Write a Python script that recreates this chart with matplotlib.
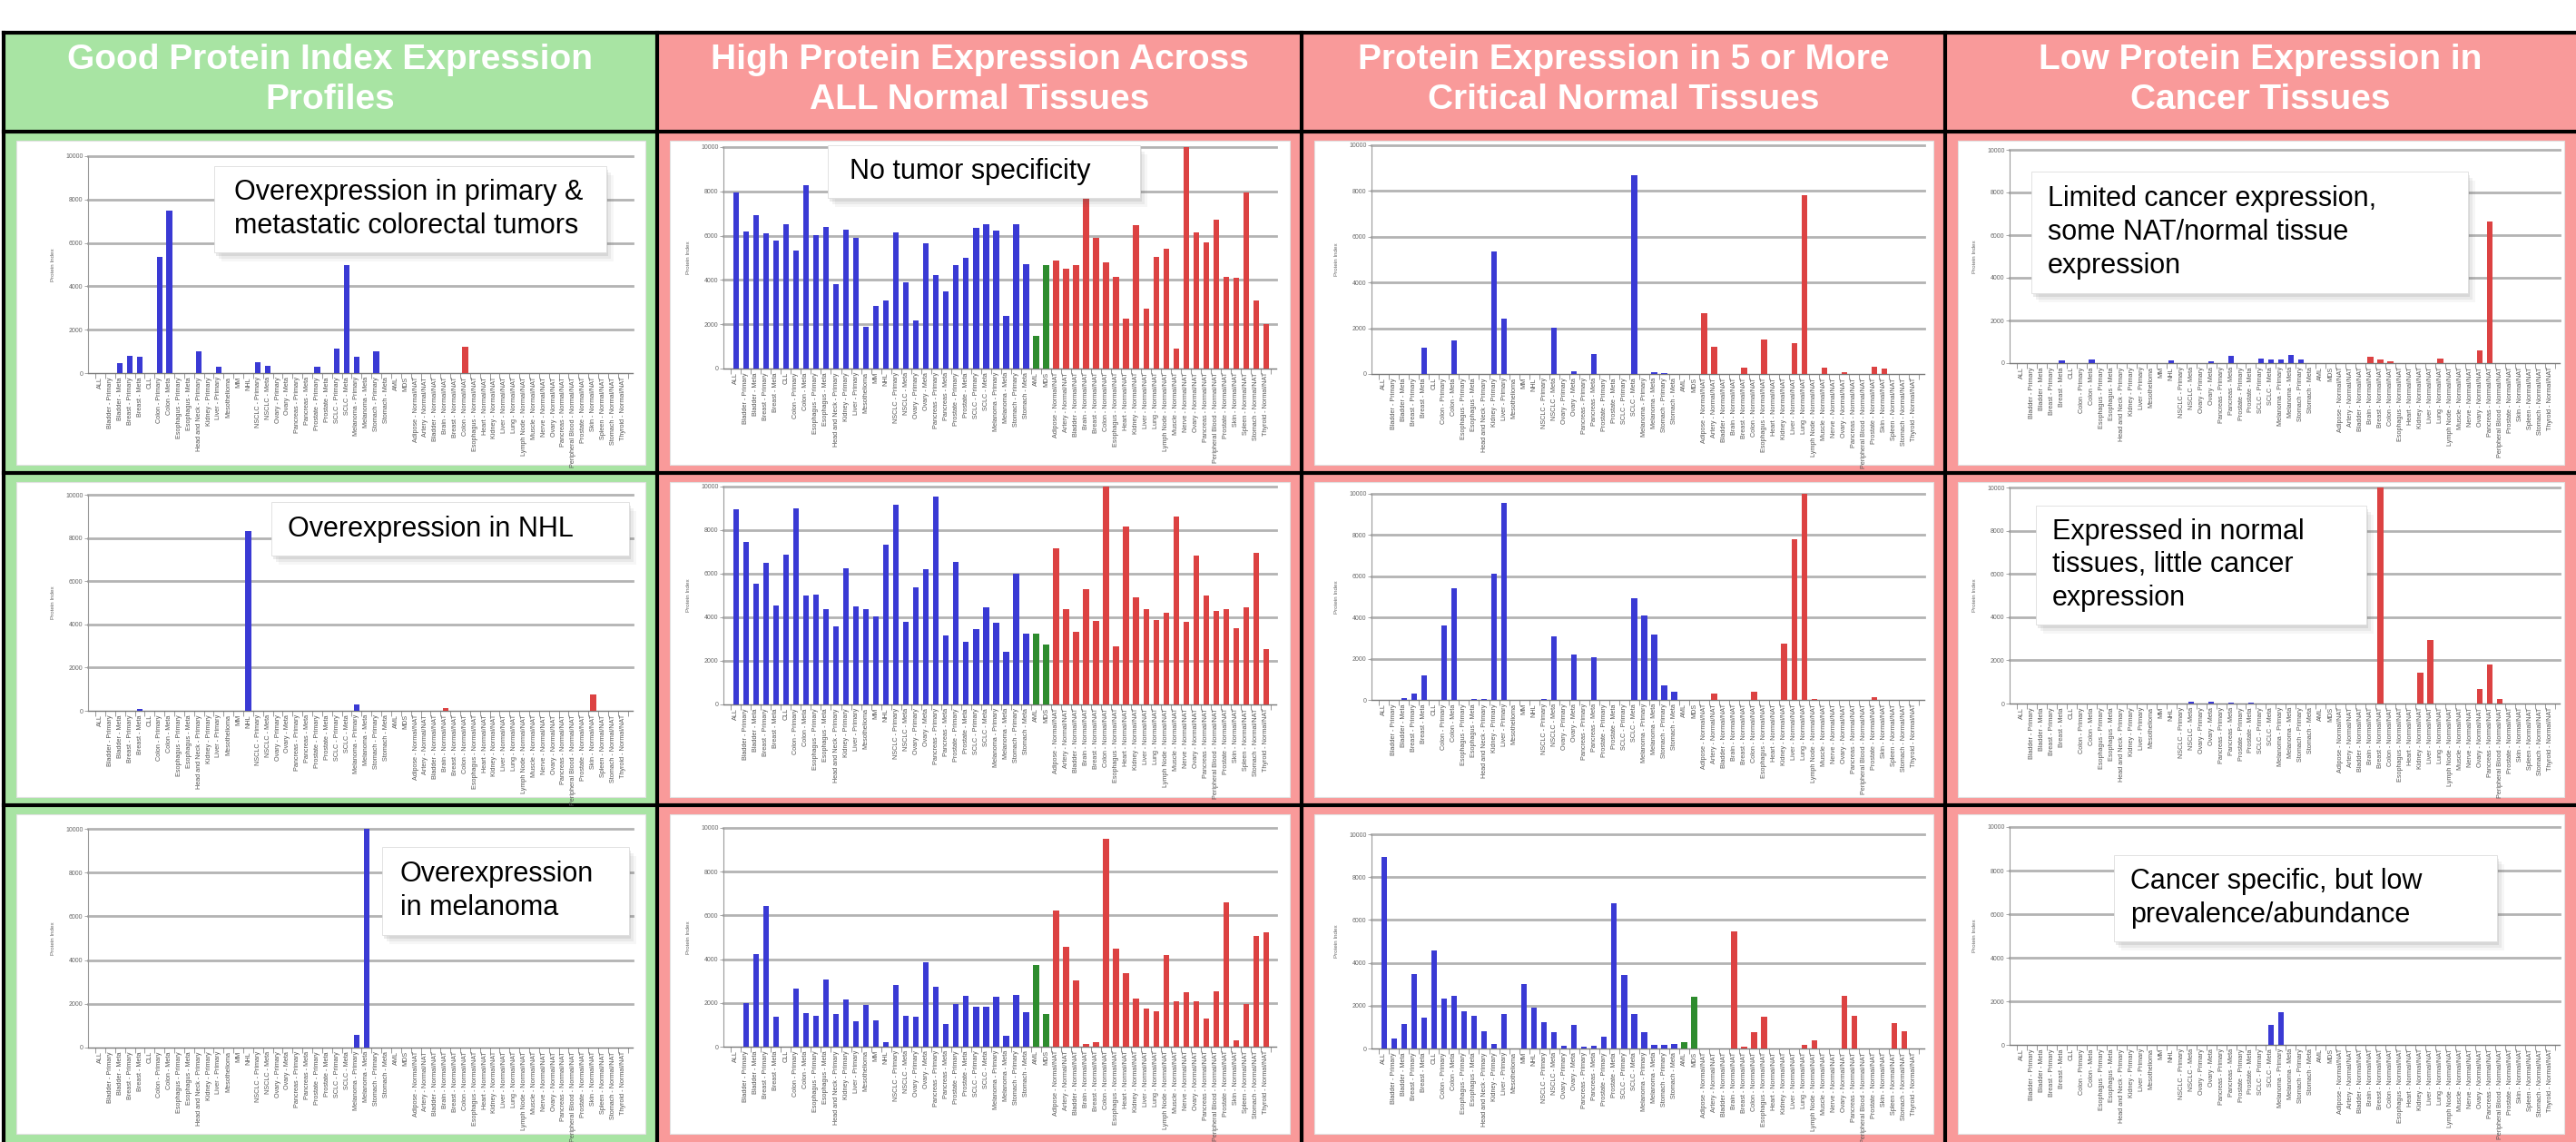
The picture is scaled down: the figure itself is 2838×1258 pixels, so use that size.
import matplotlib
matplotlib.use("Agg")
import matplotlib.pyplot as plt
import numpy as np
from matplotlib.patches import Rectangle

plt.rcParams['font.family'] = ['Liberation Sans', 'DejaVu Sans']

# ---- data -------------------------------------------------------------
cancer_labels = [
    "ALL", "Bladder - Primary", "Bladder - Meta", "Breast - Primary", "Breast - Meta",
    "CLL", "Colon - Primary", "Colon - Meta", "Esophagus - Primary", "Esophagus - Meta",
    "Head and Neck - Primary", "Kidney - Primary", "Liver - Primary", "Mesothelioma", "MM",
    "NHL", "NSCLC - Primary", "NSCLC - Meta", "Ovary - Primary", "Ovary - Meta",
    "Pancreas - Primary", "Pancreas - Meta", "Prostate - Primary", "Prostate - Meta", "SCLC - Primary",
    "SCLC - Meta", "Melanoma - Primary", "Melanoma - Meta", "Stomach - Primary", "Stomach - Meta",
]
blood_labels = ["AML", "MDS"]
normal_labels = [
    "Adipose - Normal/NAT", "Artery - Normal/NAT", "Bladder - Normal/NAT", "Brain - Normal/NAT",
    "Breast - Normal/NAT", "Colon - Normal/NAT", "Esophagus - Normal/NAT", "Heart - Normal/NAT",
    "Kidney - Normal/NAT", "Liver - Normal/NAT", "Lung - Normal/NAT", "Lymph Node - Normal/NAT",
    "Muscle - Normal/NAT", "Nerve - Normal/NAT", "Ovary - Normal/NAT", "Pancreas - Normal/NAT",
    "Peripheral Blood - Normal/NAT", "Prostate - Normal/NAT", "Skin - Normal/NAT",
    "Spleen - Normal/NAT", "Stomach - Normal/NAT", "Thyroid - Normal/NAT",
]
categories = cancer_labels + blood_labels + normal_labels

titles = [
    "Good Protein Index Expression\nProfiles",
    "High Protein Expression Across\nALL Normal Tissues",
    "Protein Expression in 5 or More\nCritical Normal Tissues",
    "Low Protein Expression in\nCancer Tissues",
]

# row 1
good_colorectal = [0, 0, 450, 810, 740, 0, 5360, 7480, 0, 0,
                   1020, 0, 280, 0, 0, 0, 490, 350, 0, 0,
                   0, 0, 280, 0, 1120, 4970, 770, 0, 1020, 0,
                   0, 0,
                   0, 0, 0, 0, 0, 1230, 0, 0, 0, 0,
                   0, 0, 0, 0, 0, 0, 0, 0, 0, 0, 0, 0]
high_all_a = [7960, 6170, 6910, 6110, 5770, 6530, 5320, 8280, 6010, 6400,
              3820, 6290, 5920, 1870, 2830, 3060, 6130, 3890, 2190, 5660,
              4210, 3470, 4680, 4990, 6350, 6500, 6240, 2370, 6530, 4720,
              1460, 4680,
              4880, 4500, 4680, 7900, 5910, 4790, 4150, 2260, 6460, 2720,
              5050, 5420, 920, 10000, 6130, 5680, 6720, 4150, 4100, 7960, 3080, 2000]
critical_a = [0, 0, 0, 0, 1150, 0, 0, 1460, 0, 0,
              0, 5360, 2420, 0, 0, 0, 0, 2030, 0, 100,
              0, 890, 0, 0, 0, 8680, 0, 80, 50, 0,
              0, 0,
              2650, 1190, 0, 0, 290, 0, 1500, 0, 0, 1350,
              7810, 0, 290, 0, 60, 0, 0, 330, 230, 0, 0, 0]
low_cancer_a = [0, 0, 0, 0, 110, 0, 0, 150, 0, 0,
                0, 0, 0, 0, 0, 110, 0, 0, 0, 100,
                0, 320, 0, 0, 230, 150, 160, 390, 150, 0,
                0, 0,
                0, 0, 0, 300, 150, 100, 0, 0, 0, 0,
                210, 0, 0, 0, 600, 6650, 0, 0, 0, 0, 0, 0]
# row 2
good_nhl = [0, 0, 0, 0, 100, 0, 0, 0, 0, 0,
            0, 0, 0, 0, 0, 8300, 0, 0, 0, 0,
            0, 0, 0, 0, 0, 0, 280, 0, 0, 0,
            0, 0,
            0, 0, 0, 110, 0, 0, 0, 0, 0, 0,
            0, 0, 0, 0, 0, 0, 0, 0, 740, 0, 0, 0]
high_all_b = [8950, 7460, 5560, 6520, 4550, 6890, 8990, 5010, 5060, 4370,
              3590, 6240, 4510, 4380, 4050, 7340, 9170, 3790, 5370, 6200,
              9560, 3150, 6550, 2860, 3470, 4470, 3770, 2430, 6020, 3230,
              3250, 2760,
              7160, 4380, 3330, 5300, 3840, 10000, 2680, 8180, 4910, 4380,
              3870, 4220, 8640, 3790, 6840, 5010, 4290, 4370, 3500, 4470, 6950, 2550]
critical_b = [0, 0, 100, 320, 1210, 0, 3610, 5430, 0, 60,
              60, 6110, 9560, 0, 0, 0, 50, 3090, 0, 2220,
              0, 2090, 0, 0, 0, 4930, 4110, 3180, 720, 380,
              0, 0,
              0, 310, 0, 0, 0, 380, 0, 0, 2750, 7800,
              10000, 50, 0, 0, 0, 0, 0, 150, 0, 0, 0, 0]
low_cancer_b = [0, 0, 0, 0, 0, 0, 0, 0, 0, 0,
                0, 0, 0, 0, 0, 0, 0, 100, 0, 80,
                0, 40, 0, 40, 0, 0, 0, 0, 0, 0,
                0, 0,
                0, 0, 0, 0, 10000, 0, 0, 0, 1440, 2960,
                0, 0, 0, 0, 660, 1820, 210, 0, 0, 0, 0, 0]
# row 3
good_melanoma = [0, 0, 0, 0, 0, 0, 0, 0, 0, 0,
                 0, 0, 0, 0, 0, 0, 0, 0, 0, 0,
                 0, 0, 0, 0, 0, 0, 600, 10000, 0, 0,
                 0, 0,
                 0, 0, 0, 0, 0, 0, 0, 0, 0, 0,
                 0, 0, 0, 0, 0, 0, 0, 0, 0, 0, 0, 0]
high_all_c = [0, 2010, 4230, 6450, 1360, 0, 2660, 1520, 1410, 3080,
              1490, 2140, 1180, 1890, 1200, 190, 2840, 1420, 1380, 3870,
              2740, 1040, 1960, 2310, 1830, 1830, 2280, 480, 2370, 1590,
              3750, 1510,
              6220, 4550, 3020, 110, 210, 9500, 4480, 3360, 2210, 1730,
              1620, 4200, 2070, 2480, 2070, 1270, 2530, 6610, 280, 1950, 5080, 5240]
critical_c = [8960, 460, 1140, 3460, 1420, 4590, 2310, 2450, 1730, 1520,
              820, 230, 1610, 0, 3000, 1920, 1240, 750, 110, 1110,
              80, 110, 560, 6770, 3440, 1590, 750, 150, 150, 200,
              280, 2410,
              0, 0, 0, 5480, 80, 750, 1490, 0, 0, 0,
              150, 380, 0, 0, 2460, 1540, 0, 0, 0, 1180, 820, 0]
low_cancer_c = [0, 0, 0, 0, 0, 0, 0, 0, 0, 0,
                0, 0, 0, 0, 0, 0, 0, 0, 0, 0,
                0, 0, 0, 0, 0, 900, 1480, 0, 0, 0,
                0, 0,
                0, 0, 0, 0, 0, 0, 0, 0, 0, 0,
                0, 0, 0, 0, 0, 0, 0, 0, 0, 0, 0, 0]

panels = [
    [good_colorectal, high_all_a, critical_a, low_cancer_a],
    [good_nhl, high_all_b, critical_b, low_cancer_b],
    [good_melanoma, high_all_c, critical_c, low_cancer_c],
]

notes = {
    (0, 0): "Overexpression in primary &\nmetastatic colorectal tumors",
    (0, 1): "No tumor specificity",
    (0, 3): "Limited cancer expression,\nsome NAT/normal tissue\nexpression",
    (1, 0): "Overexpression in NHL",
    (1, 3): "Expressed in normal\ntissues, little cancer\nexpression",
    (2, 0): "Overexpression\nin melanoma",
    (2, 3): "Cancer specific, but low\nprevalence/abundance",
}

# ---- layout (pixels) --------------------------------------------------
W, H = 2838, 1258
col_x = [4, 724, 1434, 2143, W]
row_y = [36, 145, 521, 887, H]
ax_left = [97, 797, 1511, 2214]
ax_right = [697, 1406, 2120, 2820]
ax_top = [[172, 162, 160, 165], [545, 536, 544, 537], [913, 912, 919, 911]]
ax_zero = [[411, 406, 412, 400], [783, 776, 771, 775], [1154, 1153, 1155, 1151]]
note_boxes = {
    (0, 0): (236, 183, 668, 278, 258),
    (0, 1): (912, 160, 1256, 218, 936),
    (0, 3): (2238, 189, 2719, 323, 2256),
    (1, 0): (299, 553, 693, 612, 317),
    (1, 3): (2243, 557, 2607, 688, 2261),
    (2, 0): (421, 933, 693, 1030, 441),
    (2, 3): (2329, 942, 2751, 1037, 2347),
}

col_colors = ['#a8e4a3', '#f99a9a', '#f99a9a', '#f99a9a']
bar_colors = ['#3a3ad4'] * 30 + ['#2e8c2e'] * 2 + ['#dc4242'] * 22

fig = plt.figure(figsize=(W / 100, H / 100), dpi=100)


def px_axes(x0, y0, x1, y1):
    return fig.add_axes([x0 / W, 1 - y1 / H, (x1 - x0) / W, (y1 - y0) / H])


bg = px_axes(0, 0, W, H)
bg.set_xlim(0, W)
bg.set_ylim(H, 0)
bg.axis('off')

for c in range(4):
    bg.add_patch(Rectangle((col_x[c], row_y[0]), col_x[c + 1] - col_x[c], H - row_y[0],
                           color=col_colors[c], zorder=1))
    bg.text((col_x[c] + col_x[c + 1]) / 2, 88, titles[c], color='white', fontsize=28,
            fontweight='bold', ha='center', va='center', linespacing=1.28, zorder=5)
    for r in range(3):
        x0, x1 = col_x[c] + 14, col_x[c + 1] - 13
        y0, y1 = row_y[r + 1] + 10, row_y[r + 2] - 9
        bg.add_patch(Rectangle((x0, y0), x1 - x0, y1 - y0, facecolor='white',
                               edgecolor='#e2e2e2', lw=0.8, zorder=2))

for y in row_y[:4]:
    bg.plot([col_x[0], W], [y, y], color='black', lw=3, zorder=6)
for x in col_x[:4]:
    bg.plot([x, x], [row_y[0], H], color='black', lw=3, zorder=6)

x = np.arange(len(categories))
for r in range(3):
    for c in range(4):
        ax = px_axes(ax_left[c], ax_top[r][c], ax_right[c], ax_zero[r][c])
        ax.set_facecolor('none')
        ax.bar(x, panels[r][c], width=0.58, color=bar_colors, zorder=3)
        ax.set_xlim(-1.25, 54.0)
        ax.set_ylim(0, 10000)
        for yv in range(2000, 10001, 2000):
            ax.axhline(yv, color='#b3b3b3', lw=2.0, zorder=1, clip_on=False)
        for s in ['top', 'right']:
            ax.spines[s].set_visible(False)
        ax.spines['left'].set_color('#9a9a9a')
        ax.spines['left'].set_linewidth(0.8)
        ax.spines['bottom'].set_color('#7a7a7a')
        ax.spines['bottom'].set_linewidth(1.0)
        ax.set_yticks(range(0, 10001, 2000))
        ax.set_yticklabels([str(v) for v in range(0, 10001, 2000)], fontsize=5, color='#666666')
        ax.tick_params(axis='y', length=3, width=0.6, color='#999999', pad=1)
        ax.set_xticks(x)
        ax.set_xticklabels(categories, rotation=90, fontsize=5.2, color='#555555')
        ax.tick_params(axis='x', which='major', length=0, pad=3)
        ax.set_xticks(np.arange(-0.5, 54, 1), minor=True)
        ax.tick_params(axis='x', which='minor', length=4, width=0.6, color='#888888')
        ax.set_ylabel('Protein Index', fontsize=4.5, color='#666666', labelpad=8)

# annotation boxes on top
ov = px_axes(0, 0, W, H)
ov.set_xlim(0, W)
ov.set_ylim(H, 0)
ov.axis('off')
ov.patch.set_alpha(0)
for key, text in notes.items():
    bx0, by0, bx1, by1, tx = note_boxes[key]
    for k, a in [(10, 0.05), (7, 0.08), (4, 0.12)]:
        ov.add_patch(Rectangle((bx0 + k - 2, by0 + k), bx1 - bx0, by1 - by0,
                               facecolor='#555555', alpha=a, lw=0, zorder=1))
    ov.add_patch(Rectangle((bx0, by0), bx1 - bx0, by1 - by0, facecolor='white',
                           edgecolor='#dddddd', lw=0.6, zorder=2))
    ov.text(tx, (by0 + by1) / 2, text, fontsize=22, color='black', ha='left',
            va='center', linespacing=1.3, zorder=3)

fig.savefig('out.png', dpi=100)
